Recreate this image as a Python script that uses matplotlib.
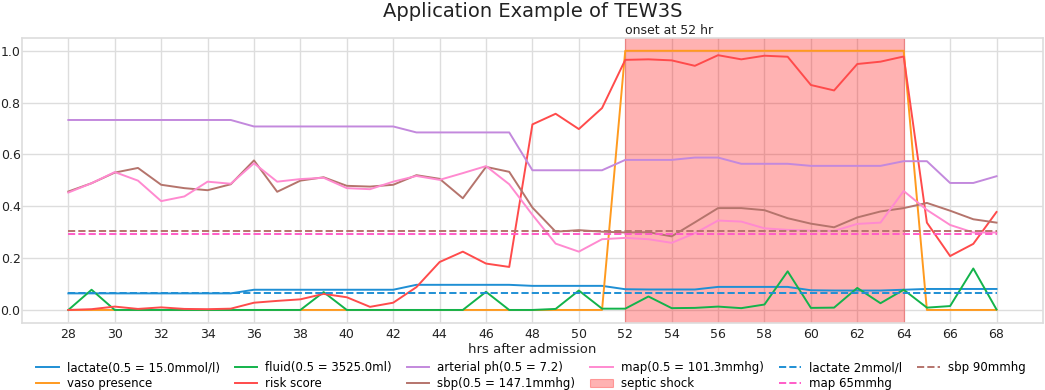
import numpy as np
import matplotlib
matplotlib.use('Agg')
import matplotlib.pyplot as plt

#hours after admission
hours = list(range(28, 69))

#normalized series
lactate = [0.064] * 8 + [0.078] * 7 + [0.097] * 5 + [0.093] * 4 + \
    [0.080, 0.079, 0.079, 0.079, 0.089, 0.089, 0.089, 0.089, 0.076, 0.075, 0.075, 0.075, 0.078,
     0.081, 0.081, 0.081, 0.081]
vaso = [0] * 24 + [1] * 13 + [0] * 4
fluid = [0.0, 0.078, 0, 0, 0, 0, 0, 0, 0, 0, 0, 0.069, 0, 0, 0, 0, 0, 0, 0.07, 0, 0.0, 0.004,
         0.075, 0.005, 0.005, 0.052, 0.007, 0.008, 0.013, 0.007, 0.021, 0.149, 0.008, 0.009,
         0.085, 0.026, 0.078, 0.009, 0.015, 0.160, 0.002]
risk = [0.0, 0.003, 0.013, 0.004, 0.010, 0.004, 0.003, 0.005, 0.028, 0.035, 0.041, 0.062,
        0.049, 0.012, 0.028, 0.088, 0.185, 0.225, 0.179, 0.166, 0.716, 0.757, 0.698, 0.779,
        0.965, 0.967, 0.963, 0.942, 0.983, 0.967, 0.981, 0.977, 0.868, 0.847, 0.949, 0.958,
        0.978, 0.337, 0.208, 0.255, 0.378]
ph = [0.733] * 8 + [0.708] * 7 + [0.685] * 5 + [0.539] * 4 + \
    [0.579, 0.579, 0.579, 0.588, 0.588, 0.564, 0.564, 0.564, 0.556, 0.556, 0.556, 0.556,
     0.574, 0.574, 0.490, 0.490, 0.516]
sbp = [0.457, 0.489, 0.530, 0.548, 0.483, 0.470, 0.462, 0.485, 0.577, 0.456, 0.499, 0.512,
       0.479, 0.476, 0.483, 0.520, 0.506, 0.431, 0.552, 0.533, 0.395, 0.302, 0.308, 0.302,
       0.299, 0.300, 0.284, 0.338, 0.393, 0.393, 0.385, 0.354, 0.333, 0.319, 0.357, 0.380,
       0.393, 0.413, 0.383, 0.350, 0.337]
mapv = [0.453, 0.489, 0.532, 0.499, 0.420, 0.438, 0.495, 0.487, 0.566, 0.495, 0.505, 0.510,
        0.470, 0.466, 0.495, 0.517, 0.502, 0.528, 0.555, 0.485, 0.367, 0.256, 0.225, 0.273,
        0.278, 0.273, 0.259, 0.296, 0.345, 0.341, 0.315, 0.309, 0.306, 0.305, 0.332, 0.337,
        0.459, 0.386, 0.328, 0.299, 0.299]

#threshold lines
lactate_thr = 0.0667
map_thr = 0.292
sbp_thr = 0.306
shock_start, shock_end = 52, 64

plt.rcParams['font.family'] = 'DejaVu Sans'
fig = plt.figure(figsize=(10.45, 3.9), dpi=100)
ax = fig.add_axes([0.021, 0.172, 0.977, 0.731])
ax.set_facecolor('white')
for s in ax.spines.values():
    s.set_color('#dddddd'); s.set_linewidth(1.2)
ax.grid(True, color='#dddddd', linewidth=1.0)
ax.set_axisbelow(True)

lw = 1.4
l1, = ax.plot(hours, lactate, color='#1f8fd4', lw=lw, label='lactate(0.5 = 15.0mmol/l)')
l2, = ax.plot(hours, vaso, color='#ff9a1f', lw=lw, label='vaso presence')
l3, = ax.plot(hours, fluid, color='#13b34b', lw=lw, label='fluid(0.5 = 3525.0ml)')
l4, = ax.plot(hours, risk, color='#ff4b4b', lw=lw, label='risk score')
l5, = ax.plot(hours, ph, color='#c389dd', lw=lw, label='arterial ph(0.5 = 7.2)')
l6, = ax.plot(hours, sbp, color='#b5746c', lw=lw, label='sbp(0.5 = 147.1mmhg)')
l7, = ax.plot(hours, mapv, color='#ff8ad0', lw=lw, label='map(0.5 = 101.3mmhg)')
span = ax.axvspan(shock_start, shock_end, color='#ff0000', alpha=0.3, lw=0.8, label='septic shock')
d1, = ax.plot([hours[0], hours[-1]], [lactate_thr] * 2, '--', color='#1f8fd4', lw=lw, label='lactate 2mmol/l')
d2, = ax.plot([hours[0], hours[-1]], [map_thr] * 2, '--', color='#ff5cc8', lw=lw, label='map 65mmhg')
d3, = ax.plot([hours[0], hours[-1]], [sbp_thr] * 2, '--', color='#b5746c', lw=lw, label='sbp 90mmhg')

ax.set_xlim(26, 70); ax.set_ylim(-0.05, 1.05)
ax.set_xticks(range(28, 69, 2))
ax.set_yticks(np.arange(0, 1.01, 0.2))
ax.tick_params(length=0, labelsize=9, colors='#222222')
ax.tick_params(axis='y', pad=1)
ax.tick_params(axis='x', pad=4)
ax.set_xlabel('hrs after admission', fontsize=9.5, color='#222222', labelpad=1)
ax.set_title('Application Example of TEW3S', fontsize=14, color='#222222', pad=15)
ax.text(shock_start, 1.052, 'onset at 52 hr', fontsize=9, color='#222222', va='bottom', ha='left')

handles = [l1, l2, l3, l4, l5, l6, l7, span, d1, d2, d3]
fig.legend(handles=handles, loc='upper center', bbox_to_anchor=(0.508, 0.092), ncol=6,
           frameon=False, fontsize=8.5, handlelength=1.9, columnspacing=1.25,
           labelspacing=0.25, handletextpad=0.7, borderpad=0.1)

fig.savefig('out.png', dpi=100)
